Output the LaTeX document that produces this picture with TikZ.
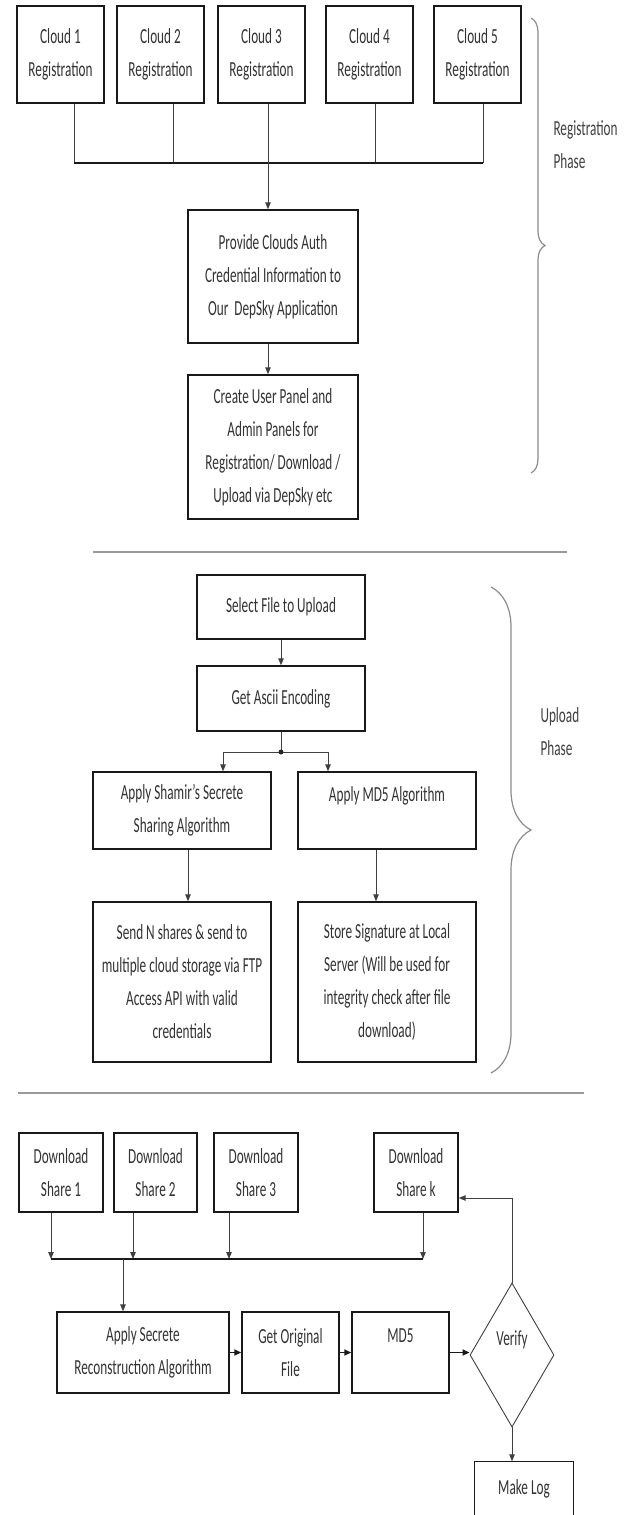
\documentclass[tikz,border=0pt]{standalone}
\usepackage{fontspec}
\setmainfont{Carlito}[FakeStretch=0.615]
\usetikzlibrary{arrows.meta,shapes.geometric,decorations.pathreplacing,calc}
\begin{document}
\begin{tikzpicture}[x=1pt,y=-1pt,
  txtfont/.style={font=\fontsize{21.5pt}{33pt}\selectfont},
  box/.style={draw=black!90, line width=1.4pt, inner sep=0pt, align=center, text=black!80, txtfont},
  dia/.style={diamond, draw=black!75, line width=0.9pt, inner sep=0pt, align=center, text=black!80, txtfont},
  conn/.style={draw=black!75, line width=1pt},
  arr/.style={conn, -{Triangle[length=7pt,width=5.5pt]}},
  harr/.style={draw=black!90, line width=1.6pt, -{Triangle[length=7pt,width=6pt]}},
  bus/.style={draw=black!90, line width=1.6pt},
  sep/.style={draw=black!40, line width=1.8pt},
  brc/.style={draw=black!45, line width=1.2pt, decorate},
  lbl/.style={anchor=west, align=left, text=black!75, txtfont}
]
\fill[white] (0,0) rectangle (628,1515);
\useasboundingbox (0,0) rectangle (628,1515);

% ---------------- Registration phase ----------------
\node[box,minimum width=87pt,minimum height=97pt] (c1) at (60.5,54.5) {Cloud 1\\Registration};
\node[box,minimum width=87pt,minimum height=97pt] (c2) at (160.5,54.5) {Cloud 2\\Registration};
\node[box,minimum width=87pt,minimum height=97pt] (c3) at (261.5,54.5) {Cloud 3\\Registration};
\node[box,minimum width=87pt,minimum height=97pt] (c4) at (369.5,54.5) {Cloud 4\\Registration};
\node[box,minimum width=87pt,minimum height=97pt] (c5) at (477.5,54.5) {Cloud 5\\Registration};

\node[box,minimum width=170pt,minimum height=133pt] (prov) at (273,276.5)
  {Provide Clouds Auth\\Credential Information to\\Our\ \ DepSky Application};
\node[box,minimum width=170pt,minimum height=144pt] (create) at (273,447)
  {Create User Panel and\\Admin Panels for\\Registration/ Download /\\Upload via DepSky etc};

\coordinate (rbl) at (74,163);
\coordinate (rbr) at (483,163);
\coordinate (rb2) at (173,163);
\coordinate (rb4) at (375,163);
\draw[conn] ($(c1.south)+(13.5,0)$) -- (rbl);
\draw[conn] ($(c2.south)+(12.5,0)$) -- (rb2);
\draw[conn] ($(c4.south)+(5.5,0)$) -- (rb4);
\draw[conn] ($(c5.south)+(5.5,0)$) -- (rbr);
\draw[bus] (rbl) -- (rbr);
\draw[arr] ($(c3.south)+(6.5,0)$) -- ($(prov.north)+(-5,0)$);
\draw[arr] ($(prov.south)+(-5,0)$) -- ($(create.north)+(-5,0)$);

\coordinate (rbt) at (531,18);
\coordinate (rbb) at (531,473);
\draw[brc, decoration={brace,amplitude=14pt}] (rbt) -- (rbb);
\node[lbl] (regph) at (550,145) {Registration\\Phase};

\coordinate (s1a) at (93,552);
\coordinate (s1b) at (567,552);
\draw[sep] (s1a) -- (s1b);

% ---------------- Upload phase ----------------
\node[box,minimum width=168pt,minimum height=64pt] (sel) at (281,607) {Select File to Upload};
\node[box,minimum width=168pt,minimum height=65pt] (asc) at (281,698.5) {Get Ascii Encoding};
\node[box,minimum width=178pt,minimum height=77pt] (sham) at (182,810.5) {Apply Shamir's Secrete\\Sharing Algorithm};
\node[box,minimum width=178pt,minimum height=77pt] (md5a) at (387,810.5) {Apply MD5 Algorithm\\\mbox{}};
\node[box,minimum width=178pt,minimum height=160pt] (send) at (182,982)
  {Send N shares \& send to\\multiple cloud storage via FTP\\Access API with valid\\credentials};
\node[box,minimum width=178pt,minimum height=160pt] (store) at (387,982)
  {Store Signature at Local\\Server (Will be used for\\integrity check after file\\download)};

\draw[arr] (sel) -- (asc);
\coordinate (uj) at (281,752);
\draw[conn] (asc.south) -- (uj);
\draw[arr] (uj) -| ($(sham.north)+(41,0)$);
\draw[arr] (uj) -| ($(md5a.north)+(-59,0)$);
\fill[black!85] (uj) circle (2.5pt);
\draw[arr] ($(sham.south)+(6,0)$) -- ($(send.north)+(6,0)$);
\draw[arr] ($(md5a.south)+(-11,0)$) -- ($(store.north)+(-11,0)$);

\coordinate (ubt) at (491,587);
\coordinate (ubb) at (491,1073);
\draw[brc, decoration={brace,amplitude=40pt}] (ubt) -- (ubb);
\node[lbl] (upph) at (537,732) {Upload\\Phase};

\coordinate (s2a) at (18,1093);
\coordinate (s2b) at (584,1093);
\draw[sep] (s2a) -- (s2b);

% ---------------- Download phase ----------------
\node[box,minimum width=84pt,minimum height=79pt] (s1) at (61,1172.5) {Download\\Share 1};
\node[box,minimum width=83pt,minimum height=79pt] (s2) at (155.5,1172.5) {Download\\Share 2};
\node[box,minimum width=84pt,minimum height=79pt] (s3) at (256,1172.5) {Download\\Share 3};
\node[box,minimum width=84pt,minimum height=79pt] (sk) at (416,1172.5) {Download\\Share k};

\node[box,minimum width=172pt,minimum height=81pt] (apply) at (143,1352.5) {Apply Secrete\\Reconstruction Algorithm};
\node[box,minimum width=97pt,minimum height=81pt] (orig) at (290.5,1352.5) {Get Original\\File};
\node[box,minimum width=97pt,minimum height=81pt] (md5b) at (400.5,1352.5) {MD5\\\mbox{}};
\node[dia,minimum width=84pt,minimum height=144pt] (ver) at (512,1355) {Verify\\\mbox{}};
\node[box,draw=none,minimum width=98pt,minimum height=53pt] (log) at (524,1488.5) {Make Log};
\draw[black!90, line width=1.4pt] (log.south west) -- (log.north west) -- (log.north east) -- (log.south east);

\coordinate (dbl) at (51,1259);
\coordinate (db2) at (133,1259);
\coordinate (db3) at (229,1259);
\coordinate (dbr) at (423,1259);
\coordinate (db) at (123,1259);
\draw[arr] ($(s1.south)+(-10,0)$) -- (dbl);
\draw[arr] ($(s2.south)+(-22.5,0)$) -- (db2);
\draw[arr] ($(s3.south)+(-27,0)$) -- (db3);
\draw[arr] ($(sk.south)+(7,0)$) -- (dbr);
\draw[bus] (dbl) -- (dbr);
\draw[arr] (db) -- ($(apply.north)+(-20,0)$);

\draw[harr] (apply.east) -- (orig.west);
\draw[harr] (orig.east) -- (md5b.west);
\draw[harr] (md5b.east) -- (md5b.east -| ver.west);
\draw[arr] (ver.north) |- ($(sk.east)+(0,25.5)$);
\draw[arr] (ver.south) -- (ver.south |- log.north);
\end{tikzpicture}
\end{document}
